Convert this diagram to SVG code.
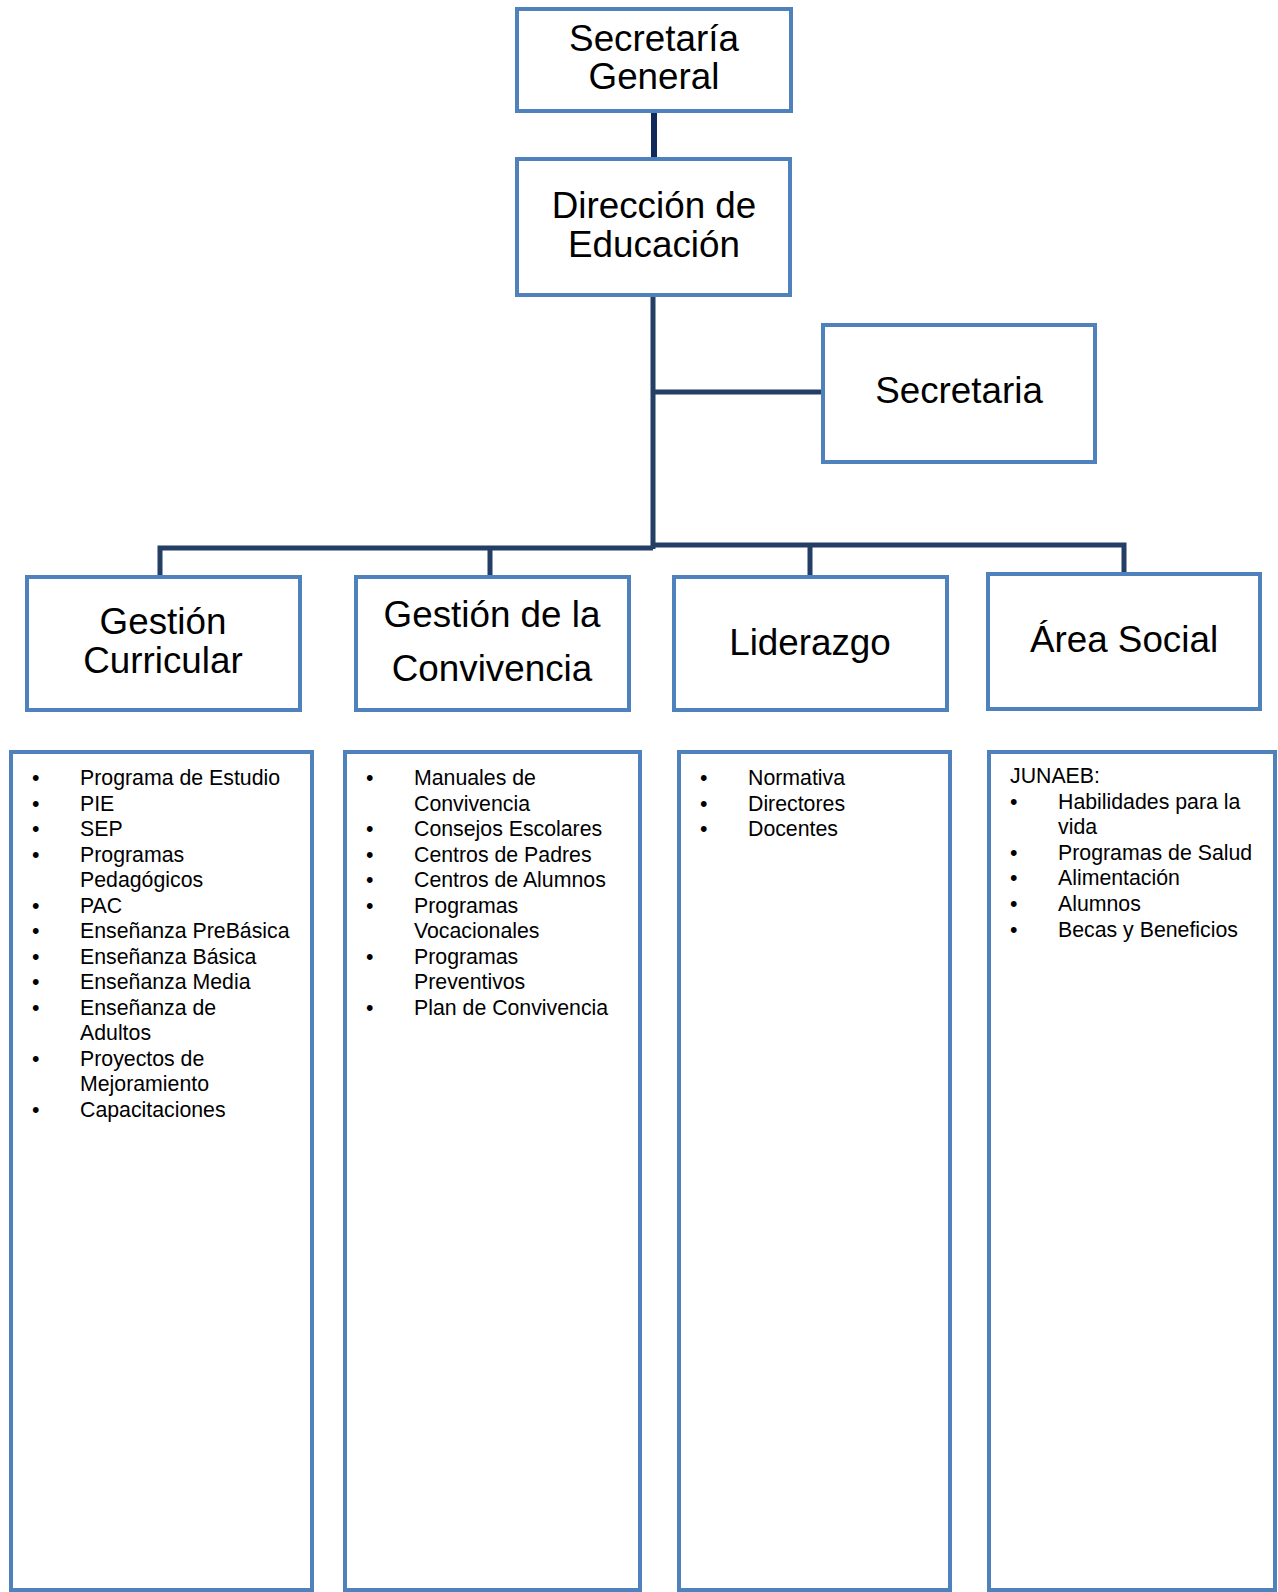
<svg xmlns="http://www.w3.org/2000/svg" width="1278" height="1592" viewBox="0 0 1278 1592">
<style>
.box{fill:#fff;stroke:#4f81bd;stroke-width:4}
.t{font-family:"Liberation Sans",Arial,sans-serif;font-size:36.8px;fill:#000;text-anchor:middle}
.l{font-family:"Liberation Sans",Arial,sans-serif;font-size:21.3px;fill:#000}
.c{fill:none;stroke:#243f66;stroke-width:5}
</style>
<rect width="1278" height="1592" fill="#fff"/>
<g id="connectors">
<line class="c" x1="654" y1="113" x2="654" y2="158" style="stroke:#102a5c;stroke-width:6"/>
<line class="c" x1="653" y1="296" x2="653" y2="549"/>
<line class="c" x1="655" y1="392" x2="823" y2="392"/>
<polyline class="c" points="160,577 160,548 653,548"/>
<polyline class="c" points="653,545 1124,545 1124,574"/>
<line class="c" x1="490" y1="548" x2="490" y2="577"/>
<line class="c" x1="810" y1="545" x2="810" y2="577"/>
</g>
<g id="secretaria-general">
<rect class="box" x="517" y="9" width="274" height="102"/>
<text class="t" x="654" y="51">Secretaría</text>
<text class="t" x="654" y="89">General</text>
</g>
<g id="direccion">
<rect class="box" x="517" y="159" width="273" height="136"/>
<text class="t" x="654" y="218">Dirección de</text>
<text class="t" x="654" y="257">Educación</text>
</g>
<g id="secretaria">
<rect class="box" x="823" y="325" width="272" height="137"/>
<text class="t" x="959" y="403">Secretaria</text>
</g>
<g id="gestion-curricular">
<rect class="box" x="27" y="577" width="273" height="133"/>
<text class="t" x="163" y="634">Gestión</text>
<text class="t" x="163" y="673">Curricular</text>
</g>
<g id="gestion-convivencia">
<rect class="box" x="356" y="577" width="273" height="133"/>
<text class="t" x="492" y="627">Gestión de la</text>
<text class="t" x="492" y="681">Convivencia</text>
</g>
<g id="liderazgo">
<rect class="box" x="674" y="577" width="273" height="133"/>
<text class="t" x="810" y="655">Liderazgo</text>
</g>
<g id="area-social">
<rect class="box" x="988" y="574" width="272" height="135"/>
<text class="t" x="1124" y="652">Área Social</text>
</g>
<g id="lista-curricular">
<rect class="box" x="11" y="752" width="301" height="838"/>
<g class="l">
<text x="32" y="785">•</text><text x="80" y="785">Programa de Estudio</text>
<text x="32" y="810.5">•</text><text x="80" y="810.5">PIE</text>
<text x="32" y="836">•</text><text x="80" y="836">SEP</text>
<text x="32" y="861.5">•</text><text x="80" y="861.5">Programas</text>
<text x="80" y="887">Pedagógicos</text>
<text x="32" y="912.5">•</text><text x="80" y="912.5">PAC</text>
<text x="32" y="938">•</text><text x="80" y="938">Enseñanza PreBásica</text>
<text x="32" y="963.5">•</text><text x="80" y="963.5">Enseñanza Básica</text>
<text x="32" y="989">•</text><text x="80" y="989">Enseñanza Media</text>
<text x="32" y="1014.5">•</text><text x="80" y="1014.5">Enseñanza de</text>
<text x="80" y="1040">Adultos</text>
<text x="32" y="1065.5">•</text><text x="80" y="1065.5">Proyectos de</text>
<text x="80" y="1091">Mejoramiento</text>
<text x="32" y="1116.5">•</text><text x="80" y="1116.5">Capacitaciones</text>
</g>
</g>
<g id="lista-convivencia">
<rect class="box" x="345" y="752" width="295" height="838"/>
<g class="l">
<text x="366" y="785">•</text><text x="414" y="785">Manuales de</text>
<text x="414" y="810.5">Convivencia</text>
<text x="366" y="836">•</text><text x="414" y="836">Consejos Escolares</text>
<text x="366" y="861.5">•</text><text x="414" y="861.5">Centros de Padres</text>
<text x="366" y="887">•</text><text x="414" y="887">Centros de Alumnos</text>
<text x="366" y="912.5">•</text><text x="414" y="912.5">Programas</text>
<text x="414" y="938">Vocacionales</text>
<text x="366" y="963.5">•</text><text x="414" y="963.5">Programas</text>
<text x="414" y="989">Preventivos</text>
<text x="366" y="1014.5">•</text><text x="414" y="1014.5">Plan de Convivencia</text>
</g>
</g>
<g id="lista-liderazgo">
<rect class="box" x="679" y="752" width="271" height="838"/>
<g class="l">
<text x="700" y="785">•</text><text x="748" y="785">Normativa</text>
<text x="700" y="810.5">•</text><text x="748" y="810.5">Directores</text>
<text x="700" y="836">•</text><text x="748" y="836">Docentes</text>
</g>
</g>
<g id="lista-social">
<rect class="box" x="989" y="752" width="286" height="838"/>
<g class="l">
<text x="1010" y="783">JUNAEB:</text>
<text x="1010" y="809">•</text><text x="1058" y="809">Habilidades para la</text>
<text x="1058" y="834">vida</text>
<text x="1010" y="859.5">•</text><text x="1058" y="859.5">Programas de Salud</text>
<text x="1010" y="885">•</text><text x="1058" y="885">Alimentación</text>
<text x="1010" y="911">•</text><text x="1058" y="911">Alumnos</text>
<text x="1010" y="937">•</text><text x="1058" y="937">Becas y Beneficios</text>
</g>
</g>
</svg>
